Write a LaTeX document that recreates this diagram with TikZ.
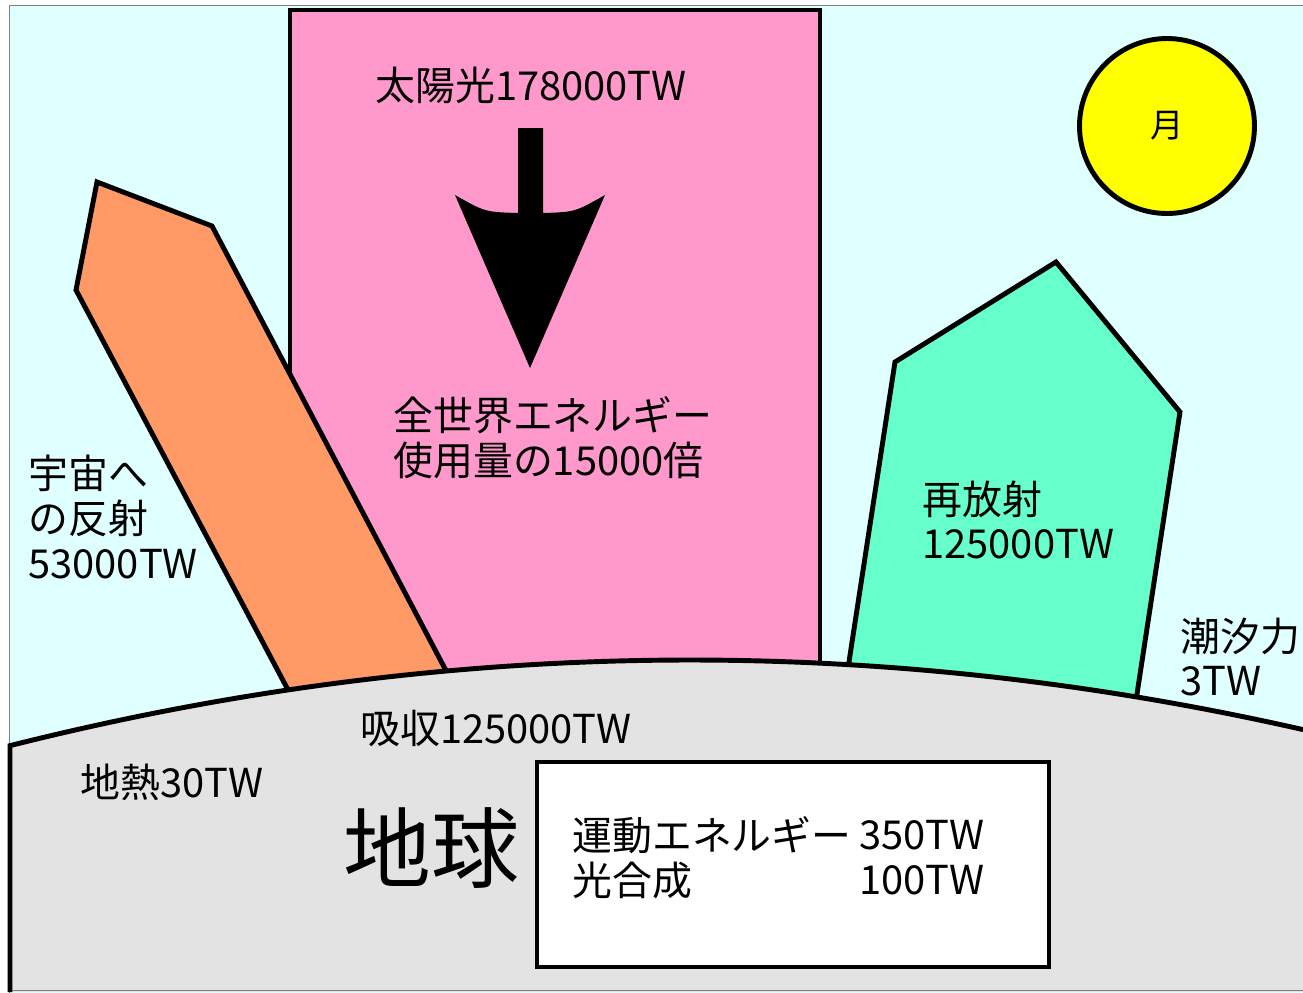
\documentclass[tikz,border=0pt]{standalone}
\usepackage{fontspec}
\setmainfont{Noto Sans CJK JP}

\definecolor{sky}{HTML}{E0FFFF}
\definecolor{sunlight}{HTML}{FF99CC}
\definecolor{reflected}{HTML}{FF9966}
\definecolor{reemitted}{HTML}{66FFCC}
\definecolor{ground}{HTML}{E3E3E3}
\definecolor{moonfill}{HTML}{FFFF00}

\tikzset{
  outline/.style={draw=black, line width=2.8pt},
  txt/.style={font=\fontsize{22.7}{25.5}\selectfont, anchor=west, inner sep=0pt, align=left},
}

\begin{document}
\begin{tikzpicture}[x=0.02cm, y=-0.02cm]

\useasboundingbox (0,0) rectangle (1303,992);
\clip (0,0) rectangle (1303,992);

% draw sky
\draw [gray, fill=sky] (9,5) rectangle (1320,1010);

% draw sunlight column and arrow
\draw [outline, fill=sunlight] (290,10) rectangle (820,720);
\fill (518,128) -- (543,128) -- (543,213) .. controls (575,212) .. (605,195)
  -- (530,368) -- (455,195) .. controls (485,212) .. (518,213) -- cycle;

% draw reflected and re-emitted bands
\draw [outline, fill=reflected] (97,182) -- (212,226) -- (472,720) -- (304,720) -- (76,290) -- cycle;
\draw [outline, fill=reemitted] (895,362) -- (1056,262) -- (1180,412) -- (1130,740) -- (837,740) -- cycle;

% draw moon
\node [outline, fill=moonfill, circle, minimum size=3.5cm, inner sep=0pt,
  font=\fontsize{19}{19}\selectfont] (moon) at (1167,126) {月};

% draw earth surface
\fill [ground] (10,992) -- plot [domain=10:1303, samples=80] (\x, {660 + ((\x-690)/100)^2*100/54}) -- (1303,992) -- cycle;
\draw [gray] (10,990) -- (1303,990);
\draw [outline] (10,992) -- plot [domain=10:1303, samples=80] (\x, {660 + ((\x-690)/100)^2*100/54});

% draw box of earth's own flows
\draw [outline, fill=white] (537,762) rectangle (1049,967);

% labels
\node [txt] (sun) at (375,85) {太陽光178000TW};
\node [txt] (world) at (393,438) {全世界エネルギー\\使用量の15000倍};
\node [txt] (refl) at (28,517) {宇宙へ\\の反射\\53000TW};
\node [txt] (remit) at (922,520) {再放射\\125000TW};
\node [txt] (tide) at (1180,657) {潮汐力\\3TW};
\node [txt] (absorb) at (360,728) {吸収125000TW};
\node [txt] (geo) at (80,782) {地熱30TW};
\node [txt, font=\fontsize{50}{50}\selectfont] (earth) at (343,848) {地球};

\node [txt] (kin) at (572,835) {運動エネルギー};
\node [txt, anchor=east] (kinval) at (985,835) {350TW};
\node [txt] (photo) at (572,880) {光合成};
\node [txt, anchor=east] (photoval) at (985,880) {100TW};

\end{tikzpicture}
\end{document}
